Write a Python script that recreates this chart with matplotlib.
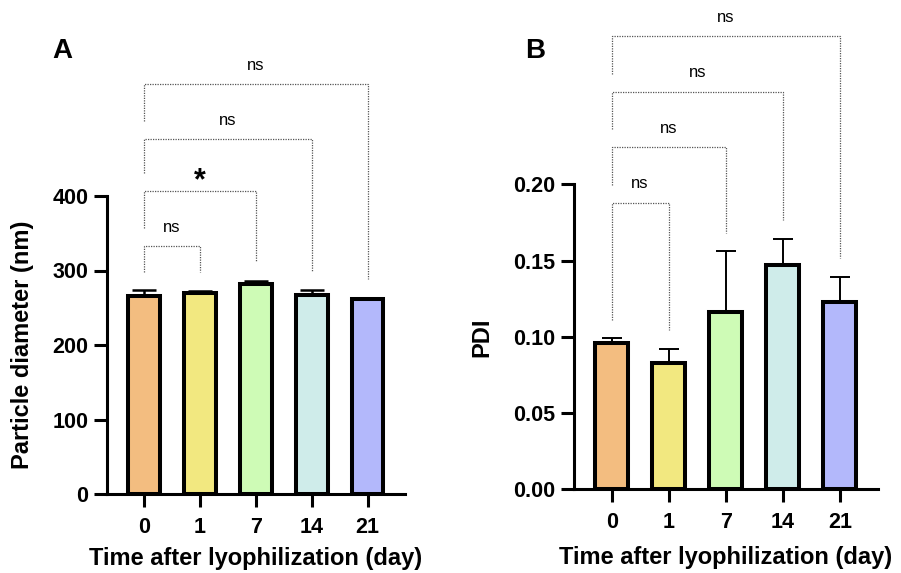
import matplotlib
matplotlib.use('Agg')
import matplotlib.pyplot as plt
import numpy as np

plt.rcParams['font.family'] = ['Liberation Sans', 'DejaVu Sans']

days = ['0', '1', '7', '14', '21']
colors = ['#F3BD80', '#F2E880', '#CEFBB6', '#CFECEA', '#B3B8FB']

# panel A - particle diameter
diam_mean = [266, 270, 282, 267, 262]
diam_sd = [8, 3, 4, 7, 1]
# brackets: (left bar, right bar, line height, left leg end, right leg end, label)
diam_brackets = [
    (0, 1, 333, 298, 298, 'ns'),
    (0, 2, 407, 357, 313, '*'),
    (0, 3, 477, 431, 299, 'ns'),
    (0, 4, 550, 501, 289, 'ns'),
]

# panel B - PDI
pdi_mean = [0.096, 0.083, 0.116, 0.147, 0.123]
pdi_sd = [0.003, 0.009, 0.040, 0.017, 0.016]
pdi_brackets = [
    (0, 1, 0.188, 0.111, 0.1045, 'ns'),
    (0, 2, 0.2243, 0.1995, 0.168, 'ns'),
    (0, 3, 0.2607, 0.2361, 0.1766, 'ns'),
    (0, 4, 0.2972, 0.2723, 0.1515, 'ns'),
]

fig = plt.figure(figsize=(9.01, 5.73), dpi=100)
axA = fig.add_axes([107/901, 79/573, 298/901, 298/573])
axB = fig.add_axes([574/901, (573-489.3)/573, 304/901, 305/573])


def draw(ax, means, sds, ylim, yticks, ytl, ylabel, brackets, width, capsize, elw, txt_off, star_off):
    x = np.arange(len(means))
    ax.bar(x, means, width=width, color=colors, edgecolor='black', linewidth=2.9, zorder=3)
    ax.errorbar(x, means, yerr=[np.zeros(len(sds)), sds], fmt='none', ecolor='black',
                elinewidth=elw, capsize=capsize, capthick=elw, zorder=2)
    ax.set_xlim(-0.66, 4.67)
    ax.set_ylim(*ylim)
    ax.set_yticks(yticks)
    ax.set_yticklabels(ytl)
    ax.set_xticks(x)
    ax.set_xticklabels(days)
    for s in ['top', 'right']:
        ax.spines[s].set_visible(False)
    for s in ['left', 'bottom']:
        ax.spines[s].set_linewidth(2.2)
    ax.tick_params(axis='both', length=9.5, width=2.2, labelsize=15.5, pad=4)
    ax.tick_params(axis='x', pad=7)
    for lab in ax.get_xticklabels() + ax.get_yticklabels():
        lab.set_fontweight('bold')
    ax.set_ylabel(ylabel, fontsize=17, fontweight='bold')
    ax.set_xlabel('Time after lyophilization (day)', fontsize=17, fontweight='bold')
    for (i, j, yl, l0, r0, lab) in brackets:
        ax.plot([i, i, j, j], [l0, yl, yl, r0], color='#555555', lw=0.9,
                linestyle=(0, (1, 1)), clip_on=False, zorder=1)
        if lab == '*':
            ax.text((i + j) / 2, yl + star_off, lab, ha='center', va='center',
                    fontsize=22, fontweight='bold')
        else:
            ax.text((i + j) / 2, yl + txt_off, lab, ha='center', va='center', fontsize=12)


draw(axA, diam_mean, diam_sd, (0, 400), [0, 100, 200, 300, 400],
     ['0', '100', '200', '300', '400'], 'Particle diameter (nm)', diam_brackets,
     0.57, 8.5, 1.8, 25, 13)
draw(axB, pdi_mean, pdi_sd, (0, 0.2), [0, 0.05, 0.10, 0.15, 0.20],
     ['0.00', '0.05', '0.10', '0.15', '0.20'], 'PDI', pdi_brackets,
     0.58, 7, 1.4, 0.0125, 0.01)

axA.yaxis.set_label_coords(-0.285, 0.5)
axA.yaxis.label.set_va('center')
axA.xaxis.set_label_coords(0.498, -0.215)
axA.xaxis.label.set_va('center')
axB.yaxis.set_label_coords(-0.303, 0.5)
axB.yaxis.label.set_va('center')
axB.xaxis.set_label_coords(0.50, -0.224)
axB.xaxis.label.set_va('center')

fig.text(62/901, 1 - 51/573, 'A', fontsize=20, fontweight='bold', ha='center', va='center')
fig.text(535/901, 1 - 51/573, 'B', fontsize=20, fontweight='bold', ha='center', va='center')

fig.savefig('out.png', dpi=100)
